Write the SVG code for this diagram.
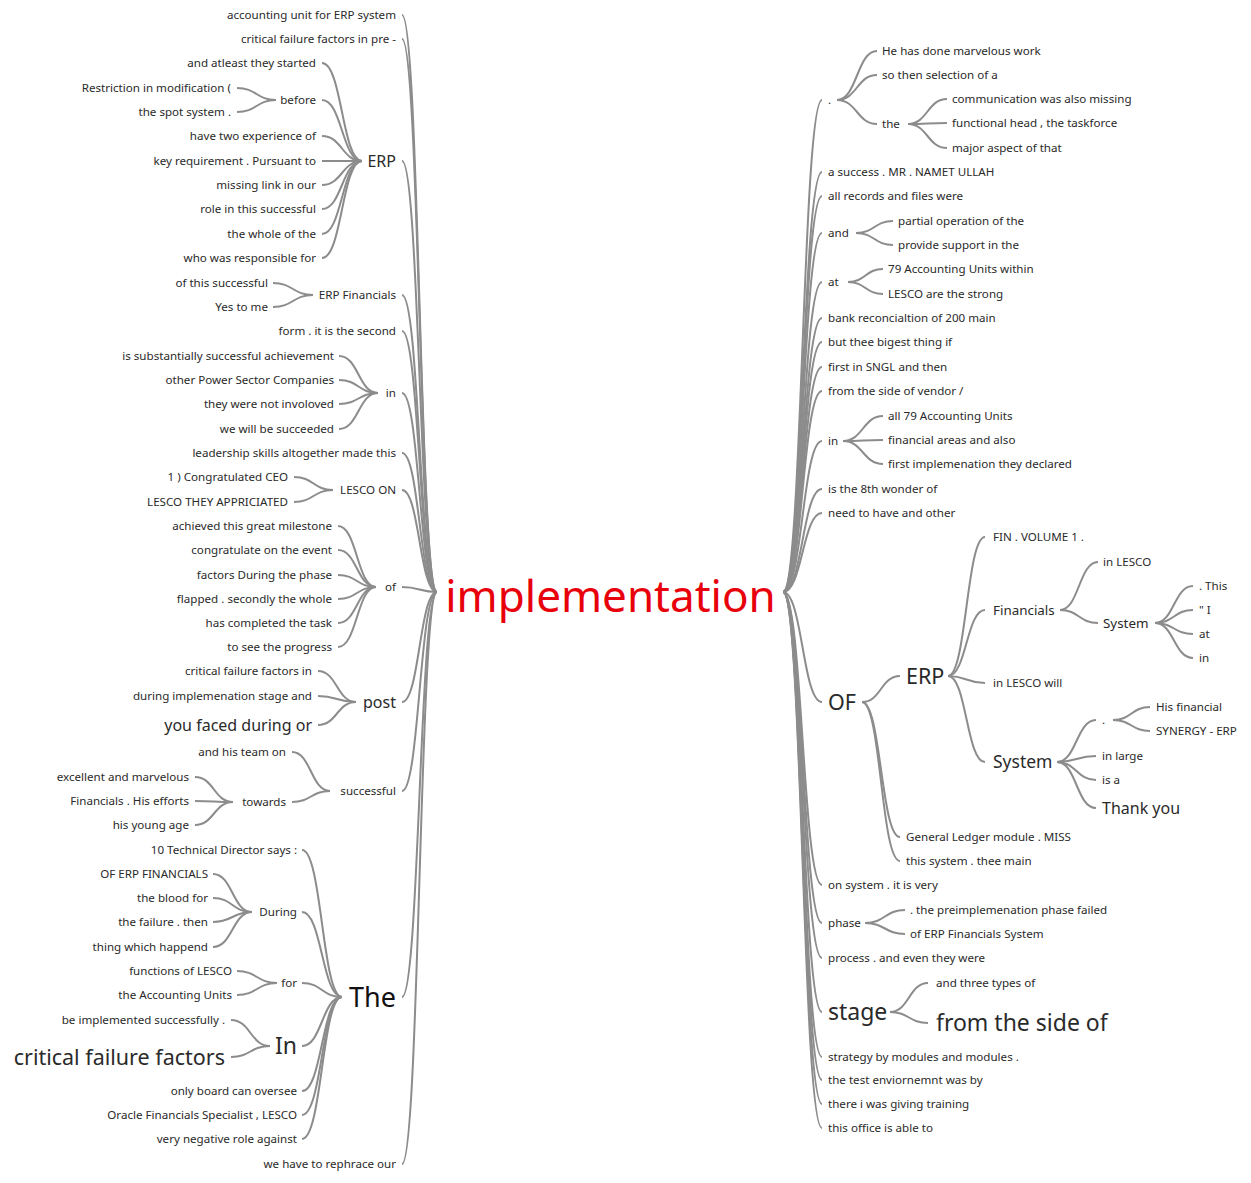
<svg xmlns="http://www.w3.org/2000/svg" width="1251" height="1183" viewBox="0 0 1251 1183">
<style>
text{font-family:"Noto Sans","Open Sans","DejaVu Sans",sans-serif;fill:#2a2a2a;font-size:11.6px}
.e{text-anchor:end}
.s16{font-size:16px}
.s13{font-size:13.4px}
.s18{font-size:17.5px}
.s21{font-size:21.5px}
.s23{font-size:23px}
.s27{font-size:27px;fill:#111}
.root{font-size:44px;fill:#e8000b;text-anchor:middle}
#links path{fill:none;stroke:#8c8c8c;stroke-width:2}
</style>
<rect width="1251" height="1183" fill="#fff"/>
<g id="links">
<path d="M402 15C419.5 15 419.5 592 437 592"/>
<path d="M402 39C419.5 39 419.5 592 437 592"/>
<path d="M402 161C419.5 161 419.5 592 437 592"/>
<path d="M402 295C419.5 295 419.5 592 437 592"/>
<path d="M402 331C419.5 331 419.5 592 437 592"/>
<path d="M402 393C419.5 393 419.5 592 437 592"/>
<path d="M402 453C419.5 453 419.5 592 437 592"/>
<path d="M402 490C419.5 490 419.5 592 437 592"/>
<path d="M402 587C419.5 587 419.5 592 437 592"/>
<path d="M402 702C419.5 702 419.5 592 437 592"/>
<path d="M402 791C419.5 791 419.5 592 437 592"/>
<path d="M402 997C419.5 997 419.5 592 437 592"/>
<path d="M402 1164C419.5 1164 419.5 592 437 592"/>
<path d="M322 63C342 63 342 161 362 161"/>
<path d="M322 100C342 100 342 161 362 161"/>
<path d="M322 136C342 136 342 161 362 161"/>
<path d="M322 161C342 161 342 161 362 161"/>
<path d="M322 185C342 185 342 161 362 161"/>
<path d="M322 209C342 209 342 161 362 161"/>
<path d="M322 234C342 234 342 161 362 161"/>
<path d="M322 258C342 258 342 161 362 161"/>
<path d="M237 88C256.5 88 256.5 100 276 100"/>
<path d="M237 112C256.5 112 256.5 100 276 100"/>
<path d="M273 283C293 283 293 295 313 295"/>
<path d="M273 307C293 307 293 295 313 295"/>
<path d="M339 356C358.5 356 358.5 393 378 393"/>
<path d="M339 380C358.5 380 358.5 393 378 393"/>
<path d="M339 404C358.5 404 358.5 393 378 393"/>
<path d="M339 429C358.5 429 358.5 393 378 393"/>
<path d="M294 477C313.5 477 313.5 490 333 490"/>
<path d="M294 502C313.5 502 313.5 490 333 490"/>
<path d="M338 526C357 526 357 587 376 587"/>
<path d="M338 550C357 550 357 587 376 587"/>
<path d="M338 575C357 575 357 587 376 587"/>
<path d="M338 599C357 599 357 587 376 587"/>
<path d="M338 623C357 623 357 587 376 587"/>
<path d="M338 647C357 647 357 587 376 587"/>
<path d="M318 671C337 671 337 702 356 702"/>
<path d="M318 696C337 696 337 702 356 702"/>
<path d="M318 725C337 725 337 702 356 702"/>
<path d="M292 752C311 752 311 791 330 791"/>
<path d="M292 802C311 802 311 791 330 791"/>
<path d="M195 777C214 777 214 802 233 802"/>
<path d="M195 801C214 801 214 802 233 802"/>
<path d="M195 825C214 825 214 802 233 802"/>
<path d="M302 850C322 850 322 997 342 997"/>
<path d="M302 912C322 912 322 997 342 997"/>
<path d="M302 983C322 983 322 997 342 997"/>
<path d="M302 1046C322 1046 322 997 342 997"/>
<path d="M302 1091C322 1091 322 997 342 997"/>
<path d="M302 1115C322 1115 322 997 342 997"/>
<path d="M302 1139C322 1139 322 997 342 997"/>
<path d="M213 874C232.5 874 232.5 912 252 912"/>
<path d="M213 898C232.5 898 232.5 912 252 912"/>
<path d="M213 922C232.5 922 232.5 912 252 912"/>
<path d="M213 947C232.5 947 232.5 912 252 912"/>
<path d="M237 971C257 971 257 983 277 983"/>
<path d="M237 995C257 995 257 983 277 983"/>
<path d="M231 1020C250.5 1020 250.5 1046 270 1046"/>
<path d="M231 1057C250.5 1057 250.5 1046 270 1046"/>
<path d="M783 592C802.5 592 802.5 100 822 100"/>
<path d="M783 592C802.5 592 802.5 172 822 172"/>
<path d="M783 592C802.5 592 802.5 196 822 196"/>
<path d="M783 592C802.5 592 802.5 233 822 233"/>
<path d="M783 592C802.5 592 802.5 282 822 282"/>
<path d="M783 592C802.5 592 802.5 318 822 318"/>
<path d="M783 592C802.5 592 802.5 342 822 342"/>
<path d="M783 592C802.5 592 802.5 367 822 367"/>
<path d="M783 592C802.5 592 802.5 391 822 391"/>
<path d="M783 592C802.5 592 802.5 441 822 441"/>
<path d="M783 592C802.5 592 802.5 489 822 489"/>
<path d="M783 592C802.5 592 802.5 513 822 513"/>
<path d="M783 592C802.5 592 802.5 702 822 702"/>
<path d="M783 592C802.5 592 802.5 885 822 885"/>
<path d="M783 592C802.5 592 802.5 923 822 923"/>
<path d="M783 592C802.5 592 802.5 958 822 958"/>
<path d="M783 592C802.5 592 802.5 1012 822 1012"/>
<path d="M783 592C802.5 592 802.5 1057 822 1057"/>
<path d="M783 592C802.5 592 802.5 1080 822 1080"/>
<path d="M783 592C802.5 592 802.5 1104 822 1104"/>
<path d="M783 592C802.5 592 802.5 1128 822 1128"/>
<path d="M837 100C857 100 857 51 877 51"/>
<path d="M837 100C857 100 857 75 877 75"/>
<path d="M837 100C857 100 857 124 877 124"/>
<path d="M908 124C927.5 124 927.5 99 947 99"/>
<path d="M908 124C927.5 124 927.5 123 947 123"/>
<path d="M908 124C927.5 124 927.5 148 947 148"/>
<path d="M856 233C874.5 233 874.5 221 893 221"/>
<path d="M856 233C874.5 233 874.5 245 893 245"/>
<path d="M848 282C865.5 282 865.5 269 883 269"/>
<path d="M848 282C865.5 282 865.5 294 883 294"/>
<path d="M843 441C863 441 863 416 883 416"/>
<path d="M843 441C863 441 863 440 883 440"/>
<path d="M843 441C863 441 863 464 883 464"/>
<path d="M862 702C881 702 881 676 900 676"/>
<path d="M862 702C881 702 881 837 900 837"/>
<path d="M862 702C881 702 881 861 900 861"/>
<path d="M948 676C966.5 676 966.5 537 985 537"/>
<path d="M948 676C966.5 676 966.5 610 985 610"/>
<path d="M948 676C966.5 676 966.5 683 985 683"/>
<path d="M948 676C966.5 676 966.5 762 985 762"/>
<path d="M1060 610C1079 610 1079 562 1098 562"/>
<path d="M1060 610C1079 610 1079 623 1098 623"/>
<path d="M1155 623C1174 623 1174 586 1193 586"/>
<path d="M1155 623C1174 623 1174 610 1193 610"/>
<path d="M1155 623C1174 623 1174 634 1193 634"/>
<path d="M1155 623C1174 623 1174 658 1193 658"/>
<path d="M1057 762C1076.5 762 1076.5 720 1096 720"/>
<path d="M1057 762C1076.5 762 1076.5 756 1096 756"/>
<path d="M1057 762C1076.5 762 1076.5 780 1096 780"/>
<path d="M1057 762C1076.5 762 1076.5 808 1096 808"/>
<path d="M1113 720C1131.5 720 1131.5 707 1150 707"/>
<path d="M1113 720C1131.5 720 1131.5 731 1150 731"/>
<path d="M865 923C885 923 885 910 905 910"/>
<path d="M865 923C885 923 885 934 905 934"/>
<path d="M890 1012C909 1012 909 983 928 983"/>
<path d="M890 1012C909 1012 909 1023 928 1023"/>
</g>
<g id="n-root"><text class="root" x="610.5" y="612">implementation</text></g>
<!-- left side -->
<g id="l1"><text class="e" x="396" y="19">accounting unit for ERP system</text></g>
<g id="l2"><text class="e" x="396" y="43">critical failure factors in pre -</text></g>
<g id="l-erp"><text class="e s16" x="396" y="167">ERP</text></g>
<g id="l-erp-1"><text class="e" x="316" y="67">and atleast they started</text></g>
<g id="l-before"><text class="e" x="316" y="104">before</text></g>
<g id="l-before-1"><text class="e" x="231" y="92">Restriction in modification (</text></g>
<g id="l-before-2"><text class="e" x="231" y="116">the spot system .</text></g>
<g id="l-erp-2"><text class="e" x="316" y="140">have two experience of</text></g>
<g id="l-erp-3"><text class="e" x="316" y="165">key requirement . Pursuant to</text></g>
<g id="l-erp-4"><text class="e" x="316" y="189">missing link in our</text></g>
<g id="l-erp-5"><text class="e" x="316" y="213">role in this successful</text></g>
<g id="l-erp-6"><text class="e" x="316" y="238">the whole of the</text></g>
<g id="l-erp-7"><text class="e" x="316" y="262">who was responsible for</text></g>
<g id="l-erpfin"><text class="e" x="396" y="299">ERP Financials</text></g>
<g id="l-erpfin-1"><text class="e" x="268" y="287">of this successful</text></g>
<g id="l-erpfin-2"><text class="e" x="268" y="311">Yes to me</text></g>
<g id="l3"><text class="e" x="396" y="335">form . it is the second</text></g>
<g id="l-in"><text class="e" x="396" y="397">in</text></g>
<g id="l-in-1"><text class="e" x="334" y="360">is substantially successful achievement</text></g>
<g id="l-in-2"><text class="e" x="334" y="384">other Power Sector Companies</text></g>
<g id="l-in-3"><text class="e" x="334" y="408">they were not involoved</text></g>
<g id="l-in-4"><text class="e" x="334" y="433">we will be succeeded</text></g>
<g id="l4"><text class="e" x="396" y="457">leadership skills altogether made this</text></g>
<g id="l-lesco"><text class="e" x="396" y="494">LESCO ON</text></g>
<g id="l-lesco-1"><text class="e" x="288" y="481">1 ) Congratulated CEO</text></g>
<g id="l-lesco-2"><text class="e" x="288" y="506">LESCO THEY APPRICIATED</text></g>
<g id="l-of"><text class="e" x="396" y="591">of</text></g>
<g id="l-of-1"><text class="e" x="332" y="530">achieved this great milestone</text></g>
<g id="l-of-2"><text class="e" x="332" y="554">congratulate on the event</text></g>
<g id="l-of-3"><text class="e" x="332" y="579">factors During the phase</text></g>
<g id="l-of-4"><text class="e" x="332" y="603">flapped . secondly the whole</text></g>
<g id="l-of-5"><text class="e" x="332" y="627">has completed the task</text></g>
<g id="l-of-6"><text class="e" x="332" y="651">to see the progress</text></g>
<g id="l-post"><text class="e s16" x="396" y="708">post</text></g>
<g id="l-post-1"><text class="e" x="312" y="675">critical failure factors in</text></g>
<g id="l-post-2"><text class="e" x="312" y="700">during implemenation stage and</text></g>
<g id="l-post-3"><text class="e s16" x="312" y="731">you faced during or</text></g>
<g id="l-succ"><text class="e" x="396" y="795">successful</text></g>
<g id="l-succ-1"><text class="e" x="286" y="756">and his team on</text></g>
<g id="l-towards"><text class="e" x="286" y="806">towards</text></g>
<g id="l-towards-1"><text class="e" x="189" y="781">excellent and marvelous</text></g>
<g id="l-towards-2"><text class="e" x="189" y="805">Financials . His efforts</text></g>
<g id="l-towards-3"><text class="e" x="189" y="829">his young age</text></g>
<g id="l-the"><text class="e s27" x="396" y="1007">The</text></g>
<g id="l-the-1"><text class="e" x="297" y="854">10 Technical Director says :</text></g>
<g id="l-during"><text class="e" x="297" y="916">During</text></g>
<g id="l-during-1"><text class="e" x="208" y="878">OF ERP FINANCIALS</text></g>
<g id="l-during-2"><text class="e" x="208" y="902">the blood for</text></g>
<g id="l-during-3"><text class="e" x="208" y="926">the failure . then</text></g>
<g id="l-during-4"><text class="e" x="208" y="951">thing which happend</text></g>
<g id="l-for"><text class="e" x="297" y="987">for</text></g>
<g id="l-for-1"><text class="e" x="232" y="975">functions of LESCO</text></g>
<g id="l-for-2"><text class="e" x="232" y="999">the Accounting Units</text></g>
<g id="l-In"><text class="e s23" x="297" y="1054">In</text></g>
<g id="l-In-1"><text class="e" x="225" y="1024">be implemented successfully .</text></g>
<g id="l-In-2"><text class="e s21" x="225" y="1065">critical failure factors</text></g>
<g id="l-the-2"><text class="e" x="297" y="1095">only board can oversee</text></g>
<g id="l-the-3"><text class="e" x="297" y="1119">Oracle Financials Specialist , LESCO</text></g>
<g id="l-the-4"><text class="e" x="297" y="1143">very negative role against</text></g>
<g id="l5"><text class="e" x="396" y="1168">we have to rephrace our</text></g>
<!-- right side -->
<g id="r-dot"><text x="828" y="104">.</text></g>
<g id="r-dot-1"><text x="882" y="55">He has done marvelous work</text></g>
<g id="r-dot-2"><text x="882" y="79">so then selection of a</text></g>
<g id="r-the"><text x="882" y="128">the</text></g>
<g id="r-the-1"><text x="952" y="103">communication was also missing</text></g>
<g id="r-the-2"><text x="952" y="127">functional head , the taskforce</text></g>
<g id="r-the-3"><text x="952" y="152">major aspect of that</text></g>
<g id="r2"><text x="828" y="176">a success . MR . NAMET ULLAH</text></g>
<g id="r3"><text x="828" y="200">all records and files were</text></g>
<g id="r-and"><text x="828" y="237">and</text></g>
<g id="r-and-1"><text x="898" y="225">partial operation of the</text></g>
<g id="r-and-2"><text x="898" y="249">provide support in the</text></g>
<g id="r-at"><text x="828" y="286">at</text></g>
<g id="r-at-1"><text x="888" y="273">79 Accounting Units within</text></g>
<g id="r-at-2"><text x="888" y="298">LESCO are the strong</text></g>
<g id="r6"><text x="828" y="322">bank reconcialtion of 200 main</text></g>
<g id="r7"><text x="828" y="346">but thee bigest thing if</text></g>
<g id="r8"><text x="828" y="371">first in SNGL and then</text></g>
<g id="r9"><text x="828" y="395">from the side of vendor /</text></g>
<g id="r-in"><text x="828" y="445">in</text></g>
<g id="r-in-1"><text x="888" y="420">all 79 Accounting Units</text></g>
<g id="r-in-2"><text x="888" y="444">financial areas and also</text></g>
<g id="r-in-3"><text x="888" y="468">first implemenation they declared</text></g>
<g id="r11"><text x="828" y="493">is the 8th wonder of</text></g>
<g id="r12"><text x="828" y="517">need to have and other</text></g>
<g id="r-OF"><text class="s21" x="828" y="710">OF</text></g>
<g id="r-erp"><text class="s21" x="906" y="684">ERP</text></g>
<g id="r-erp-1"><text x="993" y="541">FIN . VOLUME 1 .</text></g>
<g id="r-fin"><text class="s13" x="993" y="615">Financials</text></g>
<g id="r-fin-1"><text x="1103" y="566">in LESCO</text></g>
<g id="r-sys1"><text class="s13" x="1103" y="628">System</text></g>
<g id="r-sys1-1"><text x="1199" y="590">. This</text></g>
<g id="r-sys1-2"><text x="1199" y="614">" I</text></g>
<g id="r-sys1-3"><text x="1199" y="638">at</text></g>
<g id="r-sys1-4"><text x="1199" y="662">in</text></g>
<g id="r-erp-3"><text x="993" y="687">in LESCO will</text></g>
<g id="r-sys2"><text class="s18" x="993" y="768">System</text></g>
<g id="r-sys2-dot"><text x="1102" y="724">.</text></g>
<g id="r-sys2-dot-1"><text x="1156" y="711">His financial</text></g>
<g id="r-sys2-dot-2"><text x="1156" y="735">SYNERGY - ERP</text></g>
<g id="r-sys2-2"><text x="1102" y="760">in large</text></g>
<g id="r-sys2-3"><text x="1102" y="784">is a</text></g>
<g id="r-sys2-4"><text class="s16" x="1102" y="814">Thank you</text></g>
<g id="r-OF-2"><text x="906" y="841">General Ledger module . MISS</text></g>
<g id="r-OF-3"><text x="906" y="865">this system . thee main</text></g>
<g id="r14"><text x="828" y="889">on system . it is very</text></g>
<g id="r-phase"><text x="828" y="927">phase</text></g>
<g id="r-phase-1"><text x="910" y="914">. the preimplemenation phase failed</text></g>
<g id="r-phase-2"><text x="910" y="938">of ERP Financials System</text></g>
<g id="r16"><text x="828" y="962">process . and even they were</text></g>
<g id="r-stage"><text class="s23" x="828" y="1020">stage</text></g>
<g id="r-stage-1"><text x="936" y="987">and three types of</text></g>
<g id="r-stage-2"><text class="s23" x="936" y="1031">from the side of</text></g>
<g id="r18"><text x="828" y="1061">strategy by modules and modules .</text></g>
<g id="r19"><text x="828" y="1084">the test enviornemnt was by</text></g>
<g id="r20"><text x="828" y="1108">there i was giving training</text></g>
<g id="r21"><text x="828" y="1132">this office is able to</text></g>
</svg>
